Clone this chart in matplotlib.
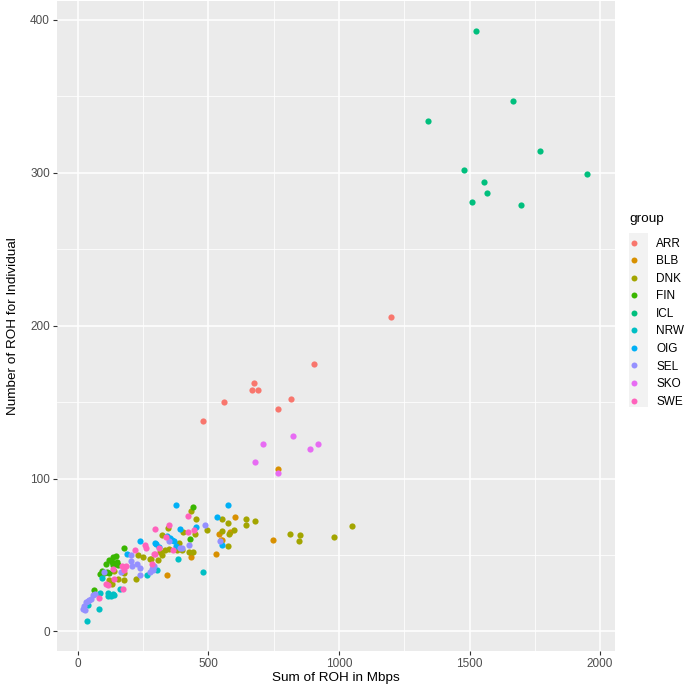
"""ROH scatter: number of ROH vs summed ROH length, coloured by group (ggplot look)."""

import matplotlib

matplotlib.use("Agg")
import matplotlib.pyplot as plt
from matplotlib.lines import Line2D
from matplotlib.patches import Rectangle

plt.rcParams["font.family"] = ["Liberation Sans", "DejaVu Sans"]

GROUPS = ["ARR", "BLB", "DNK", "FIN", "ICL", "NRW", "OIG", "SEL", "SKO", "SWE"]
COLORS = ["#F8766D", "#D89000", "#A3A500", "#39B600", "#00BF7D",
          "#00BFC4", "#00B0F6", "#9590FF", "#E76BF3", "#FF62BC"]

# sum of ROH (Mbps), number of ROH
ARR_X = [480, 561, 667, 674, 691, 768, 818, 903, 1199]
ARR_Y = [137.5, 150, 157.8, 162.6, 157.8, 145.8, 151.9, 174.8, 206]

BLB_X = [765, 600, 583, 541, 549, 553, 747, 530, 434, 342]
BLB_Y = [106.5, 75, 64.8, 63.7, 59.6, 59.6, 59.6, 50.6, 48.9, 36.9]

DNK_X = [432, 453, 551, 642, 677, 573, 645, 597, 578, 551, 496, 573, 811, 850,
         846, 982, 1049, 345, 450, 403, 324, 386, 378, 334, 350, 398, 314, 324,
         424, 439, 279, 230, 249, 278, 307, 137, 176, 153, 119, 132, 224, 175]
DNK_Y = [78.6, 73.8, 73.8, 73.8, 72, 70.9, 69.8, 66.6, 63.9, 66, 66.6, 55.9,
         63.7, 63.3, 58.9, 62, 69.2, 67.9, 63.7, 64.8, 63.3, 57.8, 53, 53, 53.7,
         53, 51.7, 50.2, 52, 52, 47.6, 50, 48.6, 47.6, 46.9, 39.5, 38.2, 34.5,
         33.8, 31.2, 34.5, 33.8]

FIN_X = [442, 429, 176, 134, 147, 121, 132, 140, 149, 153, 134, 109, 92, 83,
         99, 112, 121, 60]
FIN_Y = [81.6, 60.7, 54.8, 48.6, 49.1, 46.9, 45.4, 44.3, 45.2, 43.2, 43.2, 43.9,
         39.5, 37.8, 38.2, 38.8, 38.2, 26.8]

ICL_X = [1526, 1666, 1339, 1771, 1480, 1950, 1554, 1565, 1511, 1697]
ICL_Y = [393, 347, 334, 314, 302, 299, 294, 287, 281, 279]

NRW_X = [480, 383, 303, 263, 93, 161, 134, 125, 115, 85, 114, 139, 38, 79, 34]
NRW_Y = [38.8, 47.6, 39.9, 37.1, 34.9, 28, 24.7, 22.9, 25.1, 25.1, 22.9, 23.6,
         17, 14.6, 6.7]

OIG_X = [376, 573, 532, 551, 391, 451, 342, 352, 360, 369, 294, 376, 238, 298,
         310, 189]
OIG_Y = [83, 83, 75, 56.5, 66.8, 68.1, 62.2, 61, 60, 59, 57.8, 56.1, 58.9, 57.4,
         55.2, 50.4]

SEL_X = [488, 546, 348, 425, 391, 397, 288, 282, 205, 225, 209, 237, 291, 286,
         275, 237, 99, 166, 205, 64, 57, 51, 44, 38, 32, 25, 21, 29]
SEL_Y = [69.8, 59.4, 59.1, 56.8, 54.8, 54.8, 42.7, 41, 45.8, 44.3, 42.6, 41.4,
         42.6, 40.4, 38.8, 37.1, 38.8, 38.8, 49.8, 24.7, 23.6, 21.4, 20.8, 19.8,
         19.2, 16.4, 14.6, 13.7]

SKO_X = [824, 709, 919, 888, 677, 765]
SKO_Y = [128, 122.6, 122.6, 119.6, 110.8, 103.6]

SWE_X = [423, 348, 296, 443, 420, 337, 292, 282, 309, 364, 220, 256, 262, 296,
         185, 176, 170, 134, 140, 106, 115, 171, 80]
SWE_Y = [75.7, 69.8, 66.8, 66.1, 64.8, 62, 50.6, 43.9, 54.8, 53.5, 53.5, 56.5,
         54.8, 50.9, 42.6, 40.4, 42.6, 41, 34.5, 31.2, 30.1, 28, 21.8]

SERIES = [(ARR_X, ARR_Y), (BLB_X, BLB_Y), (DNK_X, DNK_Y), (FIN_X, FIN_Y),
          (ICL_X, ICL_Y), (NRW_X, NRW_Y), (OIG_X, OIG_Y), (SEL_X, SEL_Y),
          (SKO_X, SKO_Y), (SWE_X, SWE_Y)]

X_TICKS = [0, 500, 1000, 1500, 2000]
Y_TICKS = [0, 100, 200, 300, 400]


def main() -> None:
    W, H = 685, 686
    fig = plt.figure(figsize=(W / 100, H / 100), dpi=100)
    left, right, top, bottom = 57, 615, 1, 651
    ax = fig.add_axes([left / W, 1 - bottom / H, (right - left) / W, (bottom - top) / H])

    ax.set_facecolor("#EBEBEB")
    for s in ax.spines.values():
        s.set_visible(False)

    for (xs, ys), col in zip(SERIES, COLORS):
        ax.scatter(xs, ys, s=20, color=col, linewidths=0, zorder=3)

    ax.set_xlim(-80, 2057)
    ax.set_ylim(-12.8, 412.4)
    ax.set_xticks(X_TICKS)
    ax.set_yticks(Y_TICKS)
    ax.set_xticks([250, 750, 1250, 1750], minor=True)
    ax.set_yticks([50, 150, 250, 350], minor=True)
    ax.grid(which="major", color="white", linewidth=1.1, zorder=1)
    ax.grid(which="minor", color="white", linewidth=0.55, zorder=1)
    ax.tick_params(which="major", length=3, width=0.8, color="#333333",
                   labelsize=8.5, labelcolor="#4D4D4D", pad=2)
    ax.tick_params(which="minor", length=0)

    ax.set_xlabel("Sum of ROH in Mbps", fontsize=9.7, labelpad=1.5)
    ax.set_ylabel("Number of ROH for Individual", fontsize=9.7, labelpad=8)

    # grey legend-key column, as ggplot draws it
    fig.patches.append(Rectangle((629 / W, 1 - 407 / H), 19 / W, 174 / H,
                                 transform=fig.transFigure, facecolor="#F2F2F2",
                                 edgecolor="none", zorder=0))

    fig.text(629 / W, 1 - 219 / H, "group", fontsize=9.7, va="center", ha="left")
    handles = [Line2D([], [], marker="o", linestyle="", markersize=4.3,
                      markerfacecolor=c, markeredgewidth=0, label=g)
               for g, c in zip(GROUPS, COLORS)]
    fig.legend(handles=handles, loc="upper left",
               bbox_to_anchor=(622 / W, 1 - 233 / H), frameon=False,
               fontsize=8.5, handlelength=1.2, handletextpad=1.3,
               labelspacing=0.47, borderaxespad=0)

    fig.savefig("out.png", dpi=100)


if __name__ == "__main__":
    main()
